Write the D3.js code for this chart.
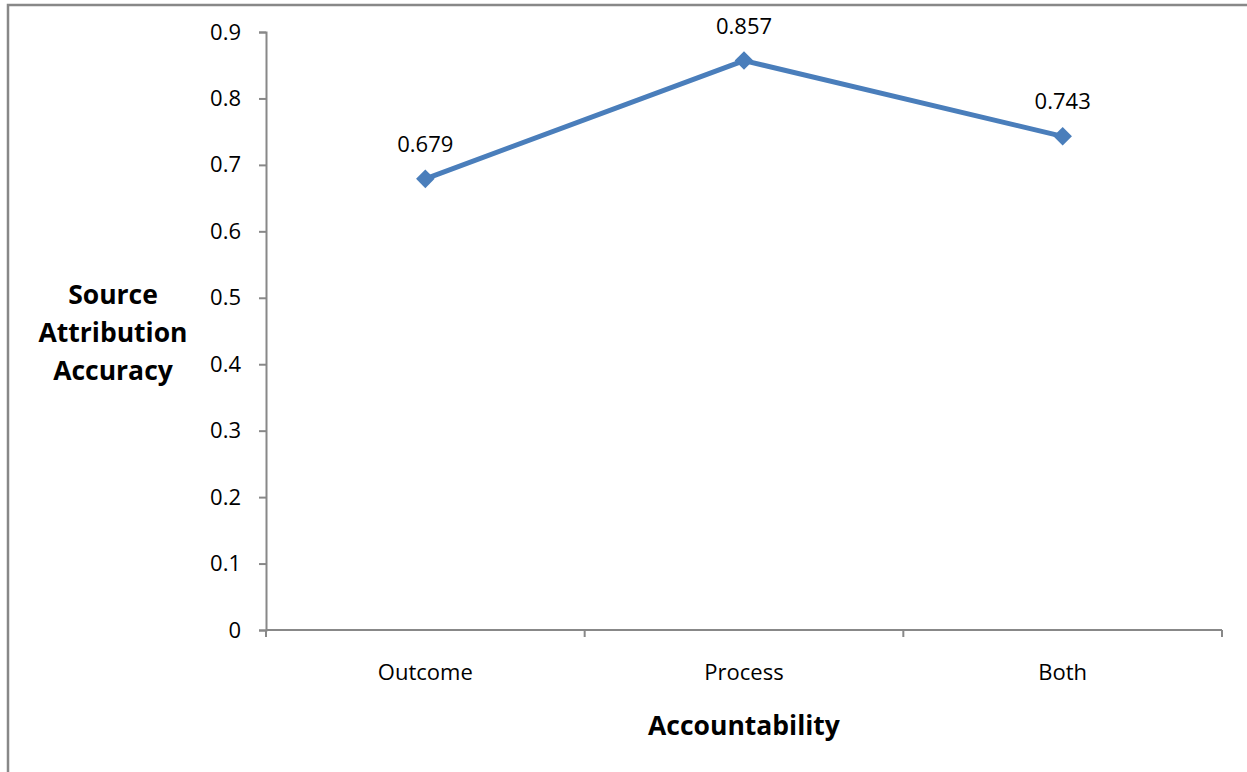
<!DOCTYPE html>
<html>
<head>
<meta charset="utf-8">
<script src="https://cdn.jsdelivr.net/npm/d3@7"></script>
<style>
  body { margin: 0; background: #fff; }
  svg { display: block; font-family: "Open Sans", "Noto Sans", sans-serif; }
</style>
</head>
<body>
<svg id="chart" width="1247" height="772"></svg>
<script>
const categories = ['Outcome', 'Process', 'Both'];
const accuracy = [0.679, 0.857, 0.743];
const yTicks = [0, 0.1, 0.2, 0.3, 0.4, 0.5, 0.6, 0.7, 0.8, 0.9];
const yTitle = ['Source', 'Attribution', 'Accuracy'];
const xTitle = 'Accountability';

const svg = d3.select('#chart');
const plotLeft = 266, plotRight = 1222, plotTop = 32, plotBottom = 630;
const fontFam = '"Open Sans", "Noto Sans", sans-serif';

// chart frame (cut off at right and bottom like the original)
svg.append('path')
  .attr('d', `M8,772 V5 H1247`)
  .attr('fill', 'none')
  .attr('stroke', '#888')
  .attr('stroke-width', 2.5);

const x = d3.scaleBand().domain(categories).range([plotLeft, plotRight]);
const y = d3.scaleLinear().domain([0, 0.9]).range([plotBottom, plotTop]);

// y axis
const yAxis = svg.append('g')
  .attr('transform', `translate(${plotLeft},0)`)
  .call(d3.axisLeft(y).tickValues(yTicks).tickSize(7).tickPadding(18)
    .tickFormat(d => d === 0 ? '0' : d3.format('.1f')(d)))
  .attr('font-family', fontFam);
yAxis.select('.domain').attr('stroke', '#888').attr('stroke-width', 2);
yAxis.selectAll('.tick line').attr('stroke', '#888').attr('stroke-width', 2);
yAxis.selectAll('text').style('font-size', '22px').attr('fill', '#000');

// x axis
const xAxis = svg.append('g')
  .attr('transform', `translate(0,${plotBottom})`)
  .call(d3.axisBottom(x).tickSize(0).tickPadding(34))
  .attr('font-family', fontFam);
xAxis.select('.domain').remove();
xAxis.append('line')
  .attr('x1', plotLeft).attr('x2', plotRight)
  .attr('stroke', '#888').attr('stroke-width', 2);
xAxis.selectAll('.tick line').remove();
xAxis.selectAll('.sep')
  .data(categories.map(c => x(c)).concat([plotRight]))
  .join('line')
  .attr('class', 'sep')
  .attr('x1', d => d).attr('x2', d => d)
  .attr('y1', 0).attr('y2', 7)
  .attr('stroke', '#888').attr('stroke-width', 2);
xAxis.selectAll('.tick text').style('font-size', '22px').attr('fill', '#000');

const cx = d => x(d) + x.bandwidth() / 2;

// line
svg.append('path')
  .datum(accuracy)
  .attr('fill', 'none')
  .attr('stroke', '#4a7ebb')
  .attr('stroke-width', 5)
  .attr('stroke-linejoin', 'round')
  .attr('d', d3.line().x((d, i) => cx(categories[i])).y(d => y(d)));

// markers
svg.selectAll('.marker')
  .data(accuracy)
  .join('path')
  .attr('class', 'marker')
  .attr('transform', (d, i) => `translate(${cx(categories[i])},${y(d)})`)
  .attr('d', d3.symbol(d3.symbolDiamond2, 220)())
  .attr('fill', '#4a7ebb');

// data labels
svg.selectAll('.label')
  .data(accuracy)
  .join('text')
  .attr('class', 'label')
  .attr('x', (d, i) => cx(categories[i]))
  .attr('y', d => y(d) - 27)
  .attr('text-anchor', 'middle')
  .style('font-size', '22px')
  .text(d => d3.format('.3f')(d));

// axis titles
svg.append('text')
  .attr('x', (plotLeft + plotRight) / 2)
  .attr('y', 735)
  .attr('text-anchor', 'middle')
  .style('font-size', '26.5px')
  .style('font-weight', 'bold')
  .text(xTitle);

svg.append('g')
  .selectAll('text')
  .data(yTitle)
  .join('text')
  .attr('x', 113)
  .attr('y', (d, i) => 304 + i * 38)
  .attr('text-anchor', 'middle')
  .style('font-size', '26.5px')
  .style('font-weight', 'bold')
  .text(d => d);
</script>
</body>
</html>
